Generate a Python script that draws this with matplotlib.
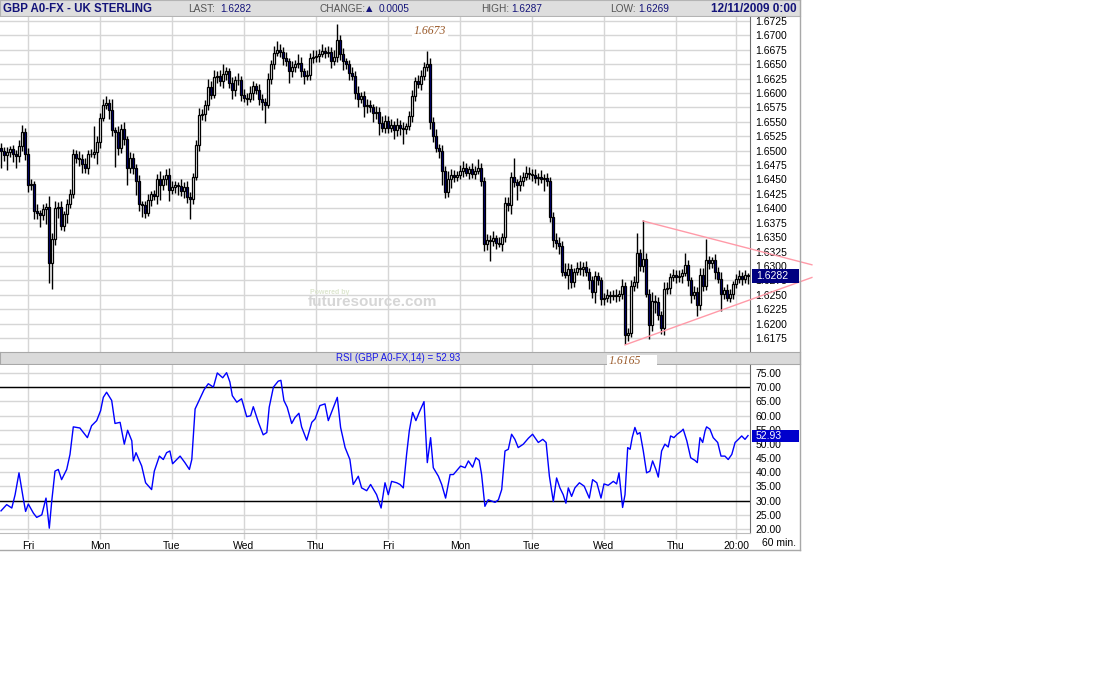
import numpy as np
import matplotlib.pyplot as plt
from matplotlib.lines import Line2D
from matplotlib.patches import Rectangle
import matplotlib.transforms as mtransforms

plt.rcParams['font.family'] = ['Liberation Sans', 'DejaVu Sans']

# hourly closes, GBP A0-FX (60 min), last candle = Fri 12/11/2009 0:00
closes = [
    1.6500, 1.6492, 1.6497, 1.6503, 1.6495, 1.6490, 1.6508, 1.6532, 1.6495,
    # Fri
    1.6440, 1.6442, 1.6396, 1.6392, 1.6388, 1.6398, 1.6402, 1.6305, 1.6347, 1.6401, 1.6403, 1.6370,
    1.6390, 1.6408, 1.6424, 1.6495, 1.6488, 1.6486, 1.6477, 1.6470, 1.6495, 1.6495, 1.6497, 1.6515,
    # Mon
    1.6557, 1.6580, 1.6582, 1.6570, 1.6535, 1.6532, 1.6504, 1.6538, 1.6520, 1.6470, 1.6488, 1.6470,
    1.6448, 1.6408, 1.6405, 1.6392, 1.6414, 1.6424, 1.6422, 1.6450, 1.6440, 1.6450, 1.6458, 1.6432,
    # Tue
    1.6437, 1.6440, 1.6438, 1.6430, 1.6437, 1.6420, 1.6416, 1.6455, 1.6510, 1.6562, 1.6563, 1.6580,
    1.6610, 1.6597, 1.6628, 1.6630, 1.6620, 1.6633, 1.6638, 1.6617, 1.6605, 1.6622, 1.6622, 1.6597,
    # Wed
    1.6592, 1.6590, 1.6600, 1.6612, 1.6606, 1.6590, 1.6585, 1.6580, 1.6625, 1.6650, 1.6670, 1.6675,
    1.6672, 1.6660, 1.6655, 1.6638, 1.6645, 1.6650, 1.6652, 1.6638, 1.6630, 1.6632, 1.6660, 1.6662,
    # Thu
    1.6665, 1.6668, 1.6673, 1.6670, 1.6672, 1.6655, 1.6662, 1.6692, 1.6668, 1.6655, 1.6650, 1.6635,
    1.6630, 1.6600, 1.6590, 1.6595, 1.6578, 1.6580, 1.6575, 1.6565, 1.6567, 1.6548, 1.6540, 1.6552,
    # Fri
    1.6540, 1.6545, 1.6535, 1.6545, 1.6540, 1.6537, 1.6542, 1.6560, 1.6595, 1.6620, 1.6615, 1.6630,
    1.6645, 1.6650, 1.6550, 1.6525, 1.6505, 1.6500, 1.6465, 1.6428, 1.6450, 1.6458, 1.6455, 1.6458,
    # Mon
    1.6465, 1.6470, 1.6462, 1.6468, 1.6460, 1.6465, 1.6470, 1.6448, 1.6338, 1.6345, 1.6343, 1.6348,
    1.6340, 1.6338, 1.6350, 1.6410, 1.6405, 1.6455, 1.6445, 1.6440, 1.6447, 1.6455, 1.6462, 1.6460,
    # Tue
    1.6458, 1.6452, 1.6455, 1.6450, 1.6452, 1.6448, 1.6385, 1.6345, 1.6340, 1.6335, 1.6290, 1.6285,
    1.6295, 1.6272, 1.6290, 1.6296, 1.6295, 1.6298, 1.6290, 1.6275, 1.6255, 1.6282, 1.6275, 1.6243,
    # Wed
    1.6245, 1.6250, 1.6247, 1.6250, 1.6248, 1.6252, 1.6265, 1.6180, 1.6183, 1.6265, 1.6272, 1.6322,
    1.6300, 1.6312, 1.6252, 1.6198, 1.6240, 1.6238, 1.6215, 1.6192, 1.6260, 1.6262, 1.6280, 1.6285,
    # Thu
    1.6280, 1.6283, 1.6288, 1.6302, 1.6275, 1.6250, 1.6255, 1.6233, 1.6285, 1.6265, 1.6310, 1.6305,
    1.6310, 1.6290, 1.6278, 1.6252, 1.6258, 1.6245, 1.6252, 1.6268, 1.6278, 1.6283, 1.6277, 1.6285,
    1.6282,
]
first_open = 1.6505

# wick lengths above / below the body, in pips
hi_wick = [
    8, 6, 10, 5, 7, 6, 10, 12, 8,
    10, 8, 6, 12, 5, 10, 8, 20, 10, 12, 8, 10, 6, 8, 10, 8, 6, 12, 8, 10, 6, 8, 45, 10,
    8, 10, 12, 8, 20, 6, 10, 8, 12, 6, 10, 8, 6, 10, 5, 8, 10, 6, 8, 10, 15, 8, 10, 12,
    10, 8, 6, 12, 8, 10, 8, 6, 8, 12, 10, 8, 15, 10, 12, 8, 10, 18, 8, 6, 10, 8, 12, 8,
    10, 8, 12, 8, 6, 10, 8, 6, 10, 8, 12, 15, 10, 8, 12, 6, 10, 8, 15, 10, 6, 8, 10, 12,
    10, 8, 12, 6, 10, 8, 12, 28, 8, 10, 6, 8, 10, 8, 12, 6, 8, 10, 8, 6, 10, 8, 12, 10,
    8, 10, 6, 12, 8, 10, 6, 8, 10, 8, 12, 10, 8, 23, 10, 8, 12, 6, 10, 8, 15, 10, 8, 6,
    10, 12, 8, 6, 10, 8, 15, 8, 6, 10, 8, 12, 6, 10, 8, 10, 10, 8, 32, 6, 10, 8, 12, 10,
    8, 10, 6, 12, 8, 10, 6, 8, 12, 10, 8, 15, 10, 8, 6, 10, 12, 8, 10, 6, 8, 10, 8, 6,
    8, 10, 6, 8, 10, 6, 12, 8, 10, 10, 10, 35, 8, 68, 10, 8, 15, 10, 8, 6, 12, 10, 8, 10,
    8, 10, 6, 20, 8, 6, 10, 8, 12, 12, 37, 8, 6, 10, 8, 12, 6, 10, 8, 6, 8, 10, 6, 8, 2,
]
lo_wick = [
    30, 10, 25, 8, 15, 20, 10, 8, 12,
    12, 8, 15, 10, 20, 8, 25, 35, 45, 10, 18, 8, 10, 15, 8, 6, 10, 12, 15, 8, 10, 6, 8, 20,
    10, 6, 8, 15, 10, 60, 12, 8, 10, 30, 8, 10, 25, 12, 20, 8, 6, 10, 8, 15, 25, 8, 10, 20,
    8, 10, 15, 8, 12, 10, 35, 8, 6, 10, 8, 12, 10, 8, 6, 10, 8, 12, 10, 8, 15, 10, 8, 10,
    8, 10, 6, 12, 8, 10, 15, 32, 6, 10, 8, 6, 10, 12, 8, 20, 10, 8, 6, 10, 15, 8, 10, 8,
    8, 12, 6, 10, 8, 12, 6, 8, 10, 15, 8, 12, 8, 10, 15, 8, 20, 12, 8, 15, 10, 20, 8, 10,
    10, 8, 15, 10, 12, 25, 8, 6, 10, 8, 6, 10, 8, 6, 12, 10, 8, 12, 25, 10, 8, 15, 10, 8,
    8, 10, 6, 12, 8, 10, 6, 10, 12, 10, 35, 8, 10, 6, 12, 8, 10, 15, 8, 25, 10, 8, 6, 10,
    10, 8, 12, 6, 20, 10, 8, 12, 10, 15, 8, 6, 25, 10, 8, 6, 10, 12, 8, 15, 10, 20, 8, 10,
    10, 8, 12, 6, 10, 8, 10, 15, 10, 6, 8, 10, 8, 10, 6, 25, 10, 20, 8, 10, 12, 8, 10, 6,
    10, 8, 12, 6, 10, 15, 8, 20, 10, 8, 6, 10, 8, 12, 8, 30, 10, 6, 8, 10, 6, 8, 10, 6, 13,
]

# RSI(14): hour index and value
rsi_hour = [0, 1.9, 3.6, 4.7, 6, 7.4, 8.2, 9.1, 10.8, 11.9, 13.6, 15, 16.1, 16.9, 18, 19.1, 20.2,
            21.9, 23, 24.1, 26.3, 28.8, 30.2, 31.9, 33.2, 34.1, 35.2, 36.9, 38, 39.7, 41.1, 42.2,
            43.6, 44.1, 45, 46.9, 48.2, 50.2, 51.1, 52.8, 54.1, 55.2, 56.3, 57.2, 59.7, 61.3, 62.8,
            63.6, 64.7, 66.3, 67.7, 69.1, 70.8, 72.1, 73.9, 75.2, 76.3, 77.1, 78.6, 80.2, 81.9,
            83.2, 84.1, 85.8, 87.4, 88.6, 89.4, 90.8, 92.4, 93.3, 94.3, 95.4, 96.9, 98, 99.3,
            100.2, 101.9, 103.6, 104.7, 105.2, 106.3, 108, 109.1, 110.8, 112.1, 113.2, 114.7,
            116.3, 117.4, 119.1, 120.2, 121.9, 123.2, 125.2, 126.7, 128, 129.1, 130.2, 131.9,
            133, 134.1, 135.2, 136.1, 137.2, 138.3, 139.4, 141, 142.1, 143.2, 144.1, 145.8,
            146.9, 148.2, 149.7, 150.8, 151.9, 153.2, 154.7, 155.8, 157.2, 158.3, 159.4, 160.2,
            161.3, 162.4, 164.7, 165.8, 166.9, 168, 169.1, 170.2, 171.3, 172.4, 174.1, 175.8,
            177.2, 179.1, 180.6, 181.7, 182.8, 184.1, 185.2, 186.3, 187.4, 188.3, 189.1, 190.2,
            191.3, 192.8, 194.4, 196.1, 197.2, 198.6, 200, 201, 202.4, 204.1, 205.2, 206, 206.7,
            207.2, 208, 208.9, 209.7, 210.4, 211.3, 212.1, 213, 214.1, 215.2, 216.3, 217.2,
            218.3, 219.1, 220.2, 221.3, 222.4, 223.2, 224.3, 225.4, 226.9, 227.4, 228.6, 229.9,
            231.3, 232.1, 233, 233.9, 234.7, 235.2, 236.3, 237.4, 238.9, 240, 241.3, 242.4,
            243.6, 244.7, 245.8, 246.9, 248, 249]
rsi_val = [26.4, 28.6, 27.4, 32.1, 39.8, 30.9, 26.2, 28.8, 25.6, 24.1, 25.0, 30.9, 20.3, 29.7, 40.4,
           41.0, 37.4, 41.0, 46.3, 56.0, 55.6, 52.2, 56.4, 58.2, 61.7, 66.4, 68.2, 65.3, 57.2, 57.6,
           49.9, 54.8, 51.1, 44.0, 46.9, 42.2, 36.3, 33.9, 40.4, 45.7, 44.5, 46.9, 47.5, 43.0, 45.7,
           43.4, 41.0, 44.5, 62.3, 65.9, 69.1, 71.2, 70.0, 75.0, 73.3, 75.1, 71.8, 67.0, 64.7, 65.9,
           59.6, 59.9, 63.1, 57.6, 53.2, 54.0, 62.9, 70.0, 72.1, 72.4, 65.3, 62.9, 57.2, 59.3, 60.8,
           56.0, 51.3, 57.6, 58.8, 60.3, 63.5, 64.1, 58.2, 62.9, 66.4, 55.8, 48.7, 44.5, 35.7, 38.6,
           34.5, 33.5, 35.7, 32.1, 27.4, 36.3, 32.1, 36.8, 36.3,
           35.7, 34.5, 46.3, 54.6, 61.1, 58.2, 61.1, 64.9, 43.4, 52.2, 41.6, 38.6, 35.7, 30.9, 39.2,
           39.2, 40.6, 42.2, 41.6, 44.0, 41.8, 45.1, 44.2, 39.2, 28.0, 30.3, 29.4, 30.3, 33.9, 47.5,
           48.1, 53.4, 51.6, 48.7, 49.9, 52.0, 53.4, 50.5, 51.6, 50.5, 38.6, 29.7, 38.0, 34.5, 32.1,
           29.1, 34.5, 31.5, 34.5, 36.3, 35.1, 30.9, 37.4, 36.3, 30.9, 35.9, 35.4, 36.8, 35.9, 39.8,
           32.7, 27.6, 32.1, 48.7, 48.1, 52.2, 55.8, 53.4, 54.0, 47.5, 39.8, 40.4, 44.0, 41.0, 38.3,
           47.5, 49.9, 48.9, 52.8, 52.2, 53.4, 54.6, 55.2, 51.1, 45.1, 44.2, 43.4, 52.2, 50.5, 54.6,
           56.0, 55.2, 52.2, 50.5, 45.7, 45.7, 44.5, 46.3, 50.5, 51.6, 52.8, 51.6, 52.93]

day_idx = [9, 33, 57, 81, 105, 129, 153, 177, 201, 225, 245]
day_labels = ['Fri', 'Mon', 'Tue', 'Wed', 'Thu', 'Fri', 'Mon', 'Tue', 'Wed', 'Thu', '20:00']

# drawn triangle (hour, price)
tri_upper = [(214, 1.6378), (270.3, 1.6302)]
tri_lower = [(208, 1.6163), (270.3, 1.6280)]

last_price, last_rsi = 1.6282, 52.93
pip = 0.0001

W, H = 1100, 700
fig = plt.figure(figsize=(11, 7), dpi=100)


def box(x0, y0, x1, y1):
    return [x0 / W, 1 - y1 / H, (x1 - x0) / W, (y1 - y0) / H]


NAVY = '#14147a'
GRID = '#d6d6d6'

# header bar
hdr = fig.add_axes(box(0, 0, 800, 16))
hdr.set_facecolor('#dedede')
hdr.set_xlim(0, 800)
hdr.set_ylim(16, 0)
hdr.set_xticks([])
hdr.set_yticks([])
for s in hdr.spines.values():
    s.set_color('#b4b4b4')
hdr.text(3, 8.5, 'GBP A0-FX - UK STERLING', fontsize=8.3, fontweight='bold', color=NAVY, va='center')
hdr.text(188, 8.5, 'LAST:', fontsize=7.3, color='#555555', va='center')
hdr.text(220, 8.5, '%.4f' % last_price, fontsize=7.3, color=NAVY, va='center')
hdr.text(319, 8.5, 'CHANGE:', fontsize=7.3, color='#555555', va='center')
hdr.text(366, 8.5, '\u25b2', fontsize=6, color=NAVY, va='center', family='DejaVu Sans')
hdr.text(379, 8.5, '0.0005', fontsize=7.3, color=NAVY, va='center')
hdr.text(481, 8.5, 'HIGH:', fontsize=7.3, color='#555555', va='center')
hdr.text(511, 8.5, '1.6287', fontsize=7.3, color=NAVY, va='center')
hdr.text(610, 8.5, 'LOW:', fontsize=7.3, color='#555555', va='center')
hdr.text(638, 8.5, '1.6269', fontsize=7.3, color=NAVY, va='center')
hdr.text(797, 8.5, '12/11/2009 0:00', fontsize=8.5, fontweight='bold', color=NAVY, va='center', ha='right')

# price panel
ax = fig.add_axes(box(0, 17, 750, 352))
o = np.array([first_open] + closes[:-1])
c = np.array(closes)
x = np.arange(len(c))
hi = np.maximum(o, c) + np.array(hi_wick) * pip
lo = np.minimum(o, c) - np.array(lo_wick) * pip
up = c >= o
ax.vlines(x, lo, hi, color='black', lw=1, zorder=3)
ax.bar(x, np.abs(c - o), bottom=np.minimum(o, c), width=0.95,
       color=np.where(up, 'white', '#000080'), edgecolor='black', linewidth=0.9, zorder=4)

price_ticks = [round(1.6175 + 0.0025 * k, 4) for k in range(23)]
ax.set_xlim(-1 / 3, 249 + 2 / 3)
ax.set_ylim(1.61507, 1.67319)
ax.set_yticks(price_ticks)
ax.set_yticklabels(['%.4f' % t for t in price_ticks])
ax.set_xticks(day_idx)
ax.yaxis.tick_right()
ax.tick_params(axis='y', length=0, pad=4, labelsize=7.5)
ax.tick_params(axis='x', length=0, labelbottom=False)
ax.grid(True, color=GRID, lw=1)
ax.set_axisbelow(True)
for k in ['top', 'left', 'bottom']:
    ax.spines[k].set_visible(False)
ax.spines['right'].set_color('#707070')

for (x0, y0), (x1, y1) in [tri_upper, tri_lower]:
    ax.plot([x0, x1], [y0, y1], color='#ff9aa8', lw=1, clip_on=False, zorder=5)

ax.text(143, 1.6708, '1.6673', family='Liberation Serif', style='italic', fontsize=8.5,
        color='#9a5a2a', ha='center', va='center', zorder=6,
        bbox=dict(fc='white', ec='none', pad=1.5))

ax.text(0.4973, 0.148, 'futuresource.com', transform=ax.transAxes, fontsize=11, fontweight='bold',
        color='#d6d6d6', ha='center', va='center', zorder=1)
ax.text(0.413, 0.178, 'Powered by', transform=ax.transAxes, fontsize=5, fontweight='bold',
        color='#dde6cf', ha='left', va='center', zorder=1)

tr = mtransforms.blended_transform_factory(ax.transAxes, ax.transData)
ax.add_patch(Rectangle((1.003, last_price - 0.0012), 0.062, 0.0024, transform=tr,
                       fc='#000080', ec='none', clip_on=False, zorder=7))
ax.text(1.008, last_price, '%.4f' % last_price, transform=tr, color='white', fontsize=7.5,
        va='center', ha='left', zorder=8)

# RSI caption bar
bar = fig.add_axes(box(0, 352, 800, 364))
bar.set_facecolor('#dadada')
bar.set_xlim(0, 800)
bar.set_ylim(12, 0)
bar.set_xticks([])
bar.set_yticks([])
for s in bar.spines.values():
    s.set_color('#a8a8a8')
bar.text(398, 6.3, 'RSI (GBP A0-FX,14) = %.2f' % last_rsi, fontsize=7, color='#1a1ae6',
         ha='center', va='center')
bar.add_patch(Rectangle((607, 3), 50, 10, fc='white', ec='none', clip_on=False, zorder=5))
bar.text(609, 8.5, '1.6165', family='Liberation Serif', style='italic', fontsize=8.5,
         color='#9a5a2a', ha='left', va='center', zorder=6)

# RSI panel
rx = fig.add_axes(box(0, 365, 750, 533))
rx.plot(rsi_hour, rsi_val, color='#0000ff', lw=1, zorder=3)
rx.axhline(70, color='black', lw=1, zorder=2)
rx.axhline(30, color='black', lw=1, zorder=2)
rsi_ticks = list(range(20, 80, 5))
rx.set_xlim(-1 / 3, 249 + 2 / 3)
rx.set_ylim(18.6, 77.8)
rx.set_yticks(rsi_ticks)
rx.set_yticklabels(['%.2f' % t for t in rsi_ticks])
rx.yaxis.tick_right()
rx.tick_params(axis='y', length=0, pad=4, labelsize=7.5)
rx.set_xticks(day_idx)
rx.set_xticklabels(day_labels)
rx.tick_params(axis='x', length=4, color=GRID, width=1, pad=2, labelsize=7.5)
rx.grid(True, color=GRID, lw=1)
rx.set_axisbelow(True)
rx.spines['top'].set_visible(False)
rx.spines['left'].set_visible(False)
rx.spines['right'].set_color('#707070')
rx.spines['bottom'].set_color('#bcbcbc')

tr2 = mtransforms.blended_transform_factory(rx.transAxes, rx.transData)
rx.add_patch(Rectangle((1.003, last_rsi - 2.1), 0.062, 4.2, transform=tr2,
                       fc='#0000cc', ec='none', clip_on=False, zorder=7))
rx.text(1.008, last_rsi, '%.2f' % last_rsi, transform=tr2, color='white', fontsize=7.5,
        va='center', ha='left', zorder=8)

fig.text(762 / W, 1 - 543 / H, '60 min.', fontsize=7.5, va='center', ha='left')

# outer frame
fig.add_artist(Line2D([800 / W, 800 / W], [1, 1 - 550 / H], color='#a8a8a8', lw=1))
fig.add_artist(Line2D([0, 800 / W], [1 - 549.5 / H, 1 - 549.5 / H], color='#a8a8a8', lw=1))

fig.savefig('out.png', dpi=100)
